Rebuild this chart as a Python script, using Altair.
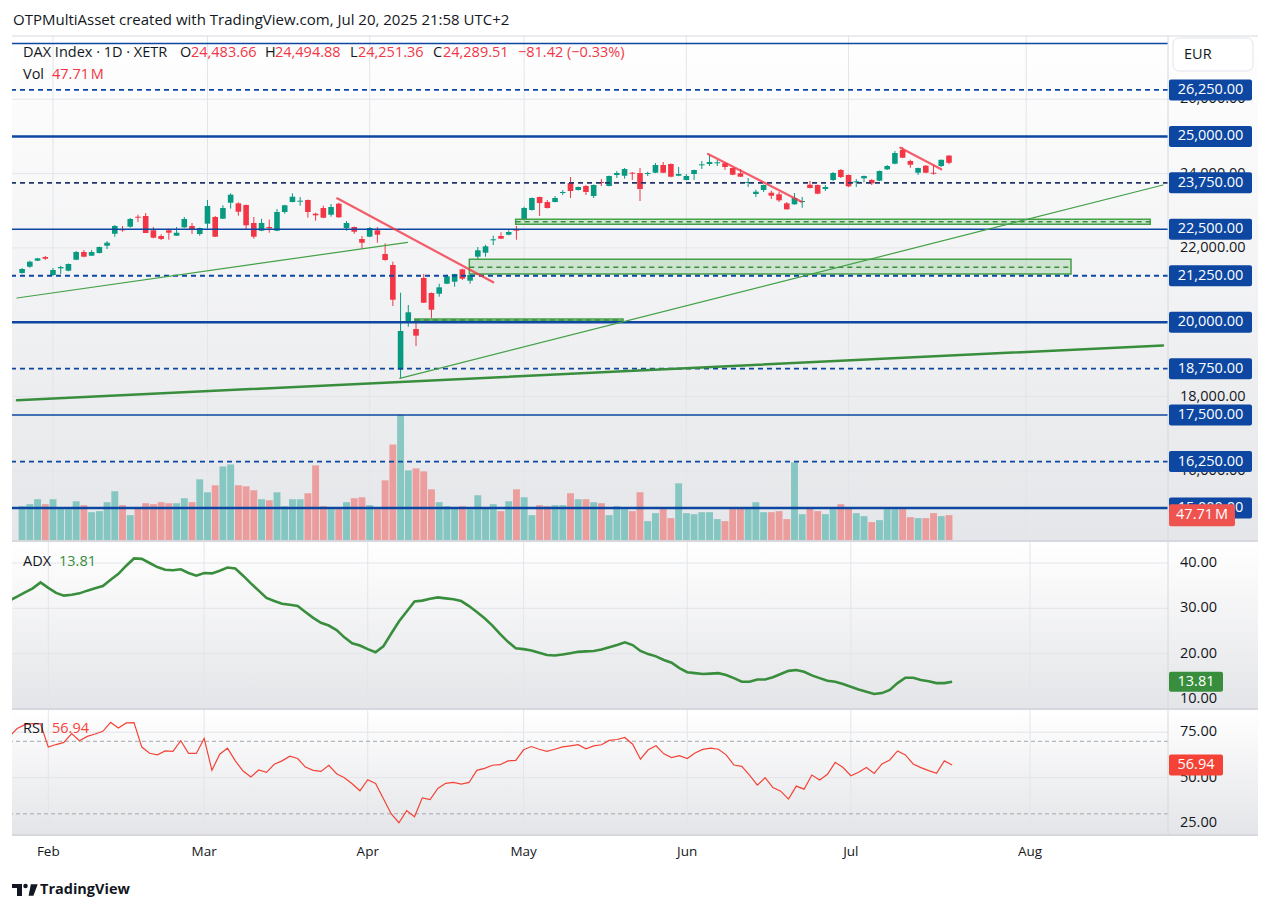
import altair as alt
import pandas as pd

# ---------------- DAX daily bars, trading-day index 0 = 28 Jan 2025 ----------------
opens = [21324, 21493, 21655, 21755, 21270, 21450, 21386, 21682, 21889, 21790,
         21862, 22058, 22381, 22508, 22570, 22839, 22858, 22473, 22319, 22473,
         22328, 22553, 22589, 22373, 22651, 22831, 22785, 23216, 23199, 23154,
         22669, 22462, 22562, 22462, 22965, 23234, 23243, 23288, 22920, 23073,
         22893, 23189, 22535, 22562, 22239, 22301, 22473, 21835, 21539, 18722,
         19997, 19817, 21189, 20786, 20767, 21036, 21090, 21423, 21117, 21763,
         21870, 22204, 22320, 22355, 22489, 22750, 23019, 23369, 23234, 23234,
         23477, 23746, 23557, 23665, 23396, 23773, 23665, 23961, 23942, 24023,
         24015, 23988, 24023, 24230, 24257, 23942, 23826, 23988, 24222, 24257,
         24276, 24276, 24149, 24007, 23746, 23450, 23557, 23485, 23442, 23199,
         23172, 23234, 23700, 23692, 23584, 23826, 24096, 23961, 23764, 23872,
         23826, 23808, 24114, 24265, 24634, 24338, 24023, 24211, 24023, 24203,
         24483.66]
highs = [21459, 21655, 21730, 21781, 21459, 21520, 21580, 21916, 21943, 21943,
         22035, 22185, 22616, 22589, 22804, 22893, 22938, 22562, 22365, 22516,
         22562, 22831, 22669, 22545, 23288, 22858, 23146, 23469, 23226, 23165,
         22831, 22785, 22762, 23046, 23160, 23469, 23369, 23300, 22947, 23135,
         23181, 23216, 22723, 22575, 22319, 22562, 22562, 22123, 21628, 20794,
         20463, 20013, 21297, 20800, 21036, 21278, 21305, 21440, 21280, 22024,
         22085, 22328, 22419, 22473, 22589, 23108, 23355, 23380, 23288, 23396,
         23557, 23907, 23650, 23692, 23705, 23853, 23945, 24069, 24149, 24042,
         24149, 24050, 24284, 24311, 24270, 24176, 23988, 24105, 24338, 24499,
         24365, 24303, 24160, 24122, 23880, 23566, 23705, 23539, 23504, 23234,
         23477, 23369, 23800, 23705, 23692, 24042, 24122, 23975, 23853, 23945,
         23853, 24080, 24230, 24607, 24706, 24373, 24160, 24230, 24230, 24375,
         24494.88]
lows = [21305, 21466, 21645, 21674, 21243, 21297, 21370, 21670, 21750, 21781,
        21850, 21970, 22301, 22435, 22543, 22696, 22395, 22258, 22212, 22220,
        22320, 22540, 22373, 22328, 22516, 22290, 22775, 23056, 22866, 22508,
        22247, 22450, 22408, 22450, 22920, 23225, 23135, 22812, 22731, 22800,
        22839, 22810, 22462, 22381, 21970, 22290, 22139, 21655, 20436, 18490,
        19879, 19359, 20515, 20113, 20686, 21025, 20955, 21135, 21036, 21692,
        21763, 22077, 22240, 22338, 22220, 22740, 23005, 22858, 23060, 23225,
        23423, 23342, 23545, 23423, 23342, 23665, 23655, 23880, 23862, 23826,
        23262, 23934, 24010, 24010, 23900, 23930, 23815, 23826, 24123, 24203,
        24203, 24096, 23955, 23905, 23638, 23369, 23504, 23315, 23235, 23030,
        23160, 23081, 23600, 23445, 23530, 23800, 23880, 23638, 23638, 23764,
        23692, 23795, 24096, 24250, 24415, 24158, 23961, 24010, 23969, 24176,
        24251.36]
closes = [21432, 21628, 21719, 21709, 21405, 21485, 21566, 21889, 21763, 21889,
          22023, 22139, 22589, 22473, 22777, 22812, 22400, 22274, 22239, 22408,
          22408, 22777, 22508, 22535, 23127, 22301, 23073, 23431, 22973, 22608,
          22301, 22669, 22527, 22965, 23146, 23377, 23270, 22965, 22876, 22812,
          23100, 22823, 22669, 22435, 22139, 22535, 22355, 21674, 20605, 19763,
          20266, 19637, 20525, 20336, 20939, 21235, 21297, 21170, 21270, 21935,
          22042, 22231, 22247, 22427, 22462, 23073, 23342, 23207, 23073, 23342,
          23504, 23530, 23638, 23504, 23692, 23746, 23934, 24015, 24122, 23996,
          23584, 24015, 24230, 24023, 23915, 23988, 23934, 24096, 24249, 24311,
          24303, 24176, 23969, 23915, 23773, 23512, 23692, 23404, 23280, 23038,
          23342, 23261, 23611, 23458, 23638, 24015, 23907, 23657, 23791, 23934,
          23737, 24069, 24203, 24553, 24427, 24238, 24149, 24023, 23996, 24370.93,
          24289.51]
# volume, millions
volume_m = [64.2, 67.9, 77.1, 67.9, 77.1, 62.4, 58.7, 73.4, 66.1, 53.2,
            55.1, 71.6, 91.8, 66.1, 47.7, 60.6, 69.7, 67.9, 71.6, 69.7,
            69.7, 78.9, 71.6, 113.8, 89.9, 102.8, 137.6, 141.3, 102.8, 100.9,
            93.6, 77.1, 75.2, 89.9, 64.2, 77.1, 77.1, 88.1, 139.5, 64.2,
            58.7, 58.7, 71.6, 78.9, 80.7, 66.1, 58.7, 111.9, 178.0, 233.0,
            130.3, 134.0, 128.5, 95.4, 71.6, 64.2, 60.6, 64.2, 58.7, 84.4,
            60.6, 67.9, 55.1, 73.4, 95.4, 80.7, 47.7, 66.1, 64.2, 66.1,
            66.1, 88.1, 77.1, 77.1, 71.6, 69.7, 47.7, 64.2, 58.7, 55.1,
            89.9, 36.7, 51.4, 58.7, 42.2, 106.4, 51.4, 49.5, 53.2, 53.2,
            40.4, 36.7, 58.7, 60.6, 62.4, 71.6, 53.2, 53.2, 55.1, 40.4,
            145.0, 49.5, 62.4, 55.1, 49.5, 58.7, 67.9, 60.6, 51.4, 45.9,
            34.9, 38.5, 58.7, 58.7, 58.7, 44.0, 42.2, 42.2, 51.4, 45.9,
            47.71]
# ADX(14) and RSI(14), index -1 .. 120
adx_vals = [31.7,
            32.6, 33.5, 34.4, 35.7, 34.5, 33.4, 32.8, 33.0, 33.3, 33.9,
            34.4, 34.9, 36.3, 37.6, 39.4, 41.0, 40.9, 40.0, 39.1, 38.5,
            38.4, 38.6, 37.8, 37.2, 37.8, 37.7, 38.3, 39.0, 38.8, 37.2,
            35.5, 33.9, 32.3, 31.6, 31.0, 30.8, 30.5, 29.2, 27.9, 26.8,
            26.2, 25.2, 23.6, 22.3, 21.8, 21.0, 20.3, 21.6, 24.4, 27.1,
            29.3, 31.5, 31.7, 32.1, 32.4, 32.2, 32.0, 31.6, 30.5, 29.2,
            27.8, 26.2, 24.3, 22.6, 21.2, 21.0, 20.7, 20.2, 19.7, 19.6,
            19.8, 20.1, 20.4, 20.5, 20.6, 20.9, 21.4, 21.9, 22.5, 21.9,
            20.6, 19.9, 19.4, 18.6, 18.0, 16.8, 15.9, 15.7, 15.5, 15.6,
            15.7, 15.3, 14.6, 13.8, 13.8, 14.3, 14.3, 14.8, 15.5, 16.2,
            16.4, 16.0, 15.2, 14.6, 14.0, 13.8, 13.3, 12.7, 12.1, 11.6,
            11.1, 11.3, 12.0, 13.5, 14.7, 14.7, 14.2, 13.9, 13.5, 13.5,
            13.81]
rsi_vals = [72.5,
            77.0, 79.2, 79.8, 79.6, 66.8, 68.2, 69.4, 74.2, 70.3, 72.7,
            74.0, 75.5, 80.4, 77.3, 80.1, 80.3, 66.8, 63.4, 62.5, 64.7,
            64.4, 70.3, 63.3, 63.3, 71.6, 54.0, 62.9, 66.2, 59.2, 53.6,
            50.3, 54.2, 52.9, 57.3, 59.2, 61.8, 60.5, 55.8, 54.0, 53.4,
            56.8, 52.1, 49.9, 46.6, 42.7, 48.8, 46.8, 38.4, 30.1, 25.1,
            31.8, 28.4, 38.8, 37.9, 44.0, 46.8, 47.3, 46.4, 47.3, 54.0,
            55.1, 56.8, 57.1, 59.2, 59.5, 65.3, 67.1, 65.6, 64.4, 65.6,
            66.9, 67.5, 68.1, 65.8, 67.5, 68.1, 70.5, 71.0, 72.1, 68.4,
            60.1, 65.3, 67.5, 63.1, 61.0, 62.1, 60.5, 63.5, 65.5, 66.2,
            65.6, 62.5, 56.9, 56.2, 51.4, 45.8, 49.9, 44.5, 42.5, 38.1,
            45.3, 43.6, 51.4, 48.6, 51.8, 58.4, 55.5, 51.0, 52.9, 55.6,
            52.3, 57.5, 59.7, 64.7, 62.5, 57.5, 55.5, 53.8, 52.3, 59.2,
            56.94]

month_idx = [4, 24, 45, 65, 86, 107, 130]
month_names = ["Feb", "Mar", "Apr", "May", "Jun", "Jul", "Aug"]

# horizontal price levels
levels_thick = [25000, 20000, 15000]
levels_thin = [27500, 22500, 17500]
levels_dashed = [26250, 21250, 18750, 16250]
levels_dark = [23750]
level_labels = [26250, 25000, 23750, 22500, 21250, 20000, 18750, 17500, 16250, 15000]
price_ticks = [16000, 18000, 20000, 22000, 24000, 26000]
adx_ticks = [10, 20, 30, 40]
rsi_ticks = [25, 50, 75]
rsi_bands = [70, 30]

# drawings: (start index, start price, end index, end price)
red_lines = [(40.8, 23334, 61.0, 21074), (88.8, 24526, 100.9, 23243), (113.7, 24696, 119.0, 24114)]
green_thin = [(-0.66, 20651, 49.9, 22150), (48.9, 18490, 147.71, 23692)]
green_thick = [(-0.66, 17898, 147.71, 19376)]
# zones: (start index, end index, low, high, mid)
zones = [(63.9, 146.05, 22634, 22769, 22702),
         (57.9, 135.8, 21297, 21693, 21477),
         (50.85, 77.8, 20032, 20086, 20060)]

# ---------------- styling ----------------
FONT = "Open Sans"
INK = "#131722"
UP, DOWN = "#089981", "#f23645"
VOL_UP, VOL_DOWN = "#26a69a", "#ef5350"
BLUE = "#0d47a1"
GRID = "#e3e5ea"
SEP = "#d6d8de"
ADX_C = "#388e3c"
RSI_C = "#f44336"
HEAD = 15       # snapshot caption size
LEGEND = 14.5   # pane legend size
SCALE = 14.5    # price-scale text size

W = 1156          # plot width
GUT = 90          # right price-scale column
H1, H2, H3 = 505, 168, 126

X_DOM = [-0.66, 147.71]
P_DOM = [14112, 27702]
ADX_DOM = [7.79, 44.85]
RSI_DOM = [18.33, 87.8]
VOL_DOM = [0, max(volume_m) * 4]

one = pd.DataFrame({"k": [0]})


def xs(field):
    return alt.X(field, type="quantitative",
                 scale=alt.Scale(domain=X_DOM, nice=False, zero=False), axis=None)


def ys(field, dom):
    return alt.Y(field, type="quantitative",
                 scale=alt.Scale(domain=dom, nice=False, zero=False), axis=None)


def text(t, x, y, color=INK, size=LEGEND, align="left", weight="normal"):
    return alt.Chart(one).mark_text(
        text=t, align=align, baseline="middle", font=FONT, fontSize=size,
        color=color, fontWeight=weight
    ).encode(x=alt.value(x), y=alt.value(y))


def panel_bg(h, bottom):
    grad = alt.LinearGradient(
        gradient="linear",
        stops=[alt.GradientStop(color="#ffffff", offset=0),
               alt.GradientStop(color=bottom, offset=1)],
        x1=0, x2=0, y1=0, y2=1)
    return alt.Chart(one).mark_rect(fill=grad).encode(
        x=alt.value(0), x2=alt.value(W + GUT), y=alt.value(0), y2=alt.value(h))


def vgrid():
    return alt.Chart(pd.DataFrame({"i": month_idx})).mark_rule(
        color=GRID, strokeWidth=1).encode(x=xs("i"))


def hgrid(values, dom):
    return alt.Chart(pd.DataFrame({"v": values})).mark_rule(
        color=GRID, strokeWidth=1).encode(y=ys("v", dom))


def tick_labels(values, dom, fmt):
    df = pd.DataFrame({"v": values, "txt": [format(v, fmt) for v in values]})
    return alt.Chart(df).mark_text(
        font=FONT, fontSize=SCALE, color=INK, align="left", baseline="middle"
    ).encode(x=alt.value(W + 12), y=ys("v", dom), text="txt:N")


def value_box(val, half_px, dom, h, fill, width):
    half = half_px * (dom[1] - dom[0]) / h
    df = pd.DataFrame({"v": [val], "hi": [val + half], "lo": [val - half],
                       "txt": [f"{val:,.2f}"]})
    box = alt.Chart(df).mark_rect(fill=fill, cornerRadius=2).encode(
        x=alt.value(W + 1), x2=alt.value(W + 1 + width), y=ys("hi", dom), y2="lo")
    txt = alt.Chart(df).mark_text(
        color="white", font=FONT, fontSize=SCALE, align="center", baseline="middle"
    ).encode(x=alt.value(W + 1 + width / 2), y=ys("v", dom), text="txt:N")
    return [box, txt]


def scale_sep(h):
    return alt.Chart(one).mark_rule(color=SEP, strokeWidth=1).encode(
        x=alt.value(W), y=alt.value(0), y2=alt.value(h))


def pane_sep(y, width=2):
    return alt.Chart(one).mark_rule(color=SEP, strokeWidth=width).encode(
        x=alt.value(0), x2=alt.value(W + GUT), y=alt.value(y))


# ---------------- data tables ----------------
bars = pd.DataFrame({"i": list(range(len(opens))), "o": opens, "h": highs,
                     "l": lows, "c": closes, "v": volume_m})
bars["col"] = [UP if c >= o else DOWN for o, c in zip(opens, closes)]
bars["vcol"] = [VOL_UP if c >= o else VOL_DOWN for o, c in zip(opens, closes)]

ind = pd.DataFrame({"i": list(range(-1, len(adx_vals) - 1)), "adx": adx_vals, "rsi": rsi_vals})

p_per_px = (P_DOM[1] - P_DOM[0]) / H1
lab = pd.DataFrame({"p": level_labels})
lab["hi"] = lab["p"] + 10.5 * p_per_px
lab["lo"] = lab["p"] - 10.5 * p_per_px
lab["txt"] = [f"{p:,.2f}" for p in level_labels]


def seg_df(rows):
    return pd.DataFrame(rows, columns=["i0", "p0", "i1", "p1"])


zone_df = pd.DataFrame(zones, columns=["i0", "i1", "lo", "hi", "mid"])

# ---------------- price pane ----------------
frame = alt.Chart(one).mark_rect(fill="white").encode(
    x=alt.value(-12), x2=alt.value(1259), y=alt.value(-36), y2=alt.value(877))

bg_layer = alt.layer(
    panel_bg(H1, "#e5e6e9"),
    vgrid(),
    hgrid(price_ticks, P_DOM),
)

vol_layer = alt.Chart(bars).mark_bar(size=6.9, opacity=0.5).encode(
    x=xs("i"), y=ys("v", VOL_DOM), color=alt.Color("vcol:N", scale=None))


def yp(field):
    return ys(field, P_DOM)


def level_rules(vals, width, dash=None, color=BLUE):
    kw = dict(color=color, strokeWidth=width)
    if dash:
        kw["strokeDash"] = dash
    return alt.Chart(pd.DataFrame({"p": vals})).mark_rule(**kw).encode(y=yp("p"))


def seg_rules(rows, color, width, opacity=1.0):
    return alt.Chart(seg_df(rows)).mark_rule(
        color=color, strokeWidth=width, opacity=opacity, strokeCap="round"
    ).encode(x=xs("i0"), x2="i1", y=yp("p0"), y2="p1")


zone_rect = alt.Chart(zone_df).mark_rect(
    fill="#4caf50", fillOpacity=0.22, stroke="#43a047", strokeWidth=1.5
).encode(x=xs("i0"), x2="i1", y=yp("lo"), y2="hi")
zone_mid = alt.Chart(zone_df).mark_rule(
    color="#388e3c", strokeWidth=1.5, strokeDash=[5, 4]
).encode(x=xs("i0"), x2="i1", y=yp("mid"))

wicks = alt.Chart(bars).mark_rule(strokeWidth=1).encode(
    x=xs("i"), y=yp("l"), y2="h", color=alt.Color("col:N", scale=None))
bodies = alt.Chart(bars).mark_bar(size=5.6).encode(
    x=xs("i"), y=yp("o"), y2="c", color=alt.Color("col:N", scale=None))

lab_box = alt.Chart(lab).mark_rect(fill=BLUE, cornerRadius=2).encode(
    x=alt.value(W + 1), x2=alt.value(W + 84), y=yp("hi"), y2="lo")
lab_txt = alt.Chart(lab).mark_text(
    color="white", font=FONT, fontSize=SCALE, align="center", baseline="middle"
).encode(x=alt.value(W + 42.5), y=yp("p"), text="txt:N")

eur_box = alt.Chart(one).mark_rect(
    fill="white", stroke="#e0e3eb", strokeWidth=1, cornerRadius=6
).encode(x=alt.value(W + 5), x2=alt.value(W + 85), y=alt.value(2), y2=alt.value(35))

chg = closes[-1] - closes[-2]
pct = chg / closes[-2] * 100
header = [
    text("OTPMultiAsset created with TradingView.com, Jul 20, 2025 21:58 UTC+2", 1, -16, size=HEAD),
    text("DAX Index · 1D · XETR", 11, 17),
    text("O", 168, 17), text(f"{opens[-1]:,.2f}", 179, 17, DOWN),
    text("H", 253, 17), text(f"{highs[-1]:,.2f}", 263, 17, DOWN),
    text("L", 338, 17), text(f"{lows[-1]:,.2f}", 346, 17, DOWN),
    text("C", 421, 17), text(f"{closes[-1]:,.2f}", 431, 17, DOWN),
    text(f"\u2212{abs(chg):,.2f} (\u2212{abs(pct):.2f}%)", 506, 17, DOWN),
    text("Vol", 11, 39), text(f"{volume_m[-1]:.2f}\u202fM", 40, 39, DOWN),
    text("EUR", W + 16, 18.5, size=SCALE),
]

price_layer = alt.layer(
    tick_labels(price_ticks, P_DOM, ",.2f"),
    wicks, bodies,
    zone_rect, zone_mid,
    level_rules(levels_thin, 1.5),
    level_rules(levels_thick, 2.5),
    level_rules(levels_dashed, 1.8, [5, 4]),
    level_rules(levels_dark, 1.8, [5, 4], "#22356b"),
    seg_rules(green_thick, "#388e3c", 2.5),
    seg_rules(green_thin, "#43a047", 1.2),
    seg_rules(red_lines, "#f23645", 2.2, 0.8),
    lab_box, lab_txt, eur_box,
    scale_sep(H1),
    pane_sep(0, 1),
    *header,
)

vol_half = 11 * VOL_DOM[1] / H1
vol_lab = pd.DataFrame({"v": [volume_m[-1]], "hi": [volume_m[-1] + vol_half],
                        "lo": [volume_m[-1] - vol_half],
                        "txt": [f"{volume_m[-1]:.2f}\u202fM"]})
vol_label_layer = alt.layer(
    alt.Chart(vol_lab).mark_rect(fill="#ef5350", cornerRadius=2).encode(
        x=alt.value(W + 1), x2=alt.value(W + 67), y=ys("hi", VOL_DOM), y2="lo"),
    alt.Chart(vol_lab).mark_text(color="white", font=FONT, fontSize=SCALE,
                                 align="center", baseline="middle").encode(
        x=alt.value(W + 34), y=ys("v", VOL_DOM), text="txt:N"),
)

pane1 = alt.layer(frame, bg_layer, vol_layer, price_layer, vol_label_layer).resolve_scale(
    y="independent").properties(width=W, height=H1)

# ---------------- ADX pane ----------------
adx_last = adx_vals[-1]
pane2 = alt.layer(
    panel_bg(H2, "#e4e5e8"),
    vgrid(),
    hgrid(adx_ticks, ADX_DOM),
    tick_labels(adx_ticks, ADX_DOM, ".2f"),
    alt.Chart(ind).mark_line(color=ADX_C, strokeWidth=2.6, clip=True).encode(
        x=xs("i"), y=ys("adx", ADX_DOM)),
    *value_box(adx_last, 10, ADX_DOM, H2, ADX_C, 54),
    scale_sep(H2),
    pane_sep(0),
    text("ADX", 11, 21),
    text(f"{adx_last:.2f}", 47, 21, ADX_C),
).properties(width=W, height=H2)

# ---------------- RSI pane ----------------
rsi_last = rsi_vals[-1]
months = pd.DataFrame({"i": month_idx, "m": month_names})
logo_v = "M-0.2,-1 L1,-1 L0.25,1 L-0.6,1 Z"
pane3 = alt.layer(
    panel_bg(H3, "#e4e5e8"),
    vgrid(),
    hgrid(rsi_ticks, RSI_DOM),
    tick_labels(rsi_ticks, RSI_DOM, ".2f"),
    alt.Chart(pd.DataFrame({"v": rsi_bands})).mark_rule(
        color="#a3a6af", strokeWidth=1, strokeDash=[4, 3]).encode(y=ys("v", RSI_DOM)),
    alt.Chart(ind).mark_line(color=RSI_C, strokeWidth=1.2, clip=True).encode(
        x=xs("i"), y=ys("rsi", RSI_DOM)),
    *value_box(rsi_last, 10.5, RSI_DOM, H3, RSI_C, 54),
    scale_sep(H3),
    pane_sep(0),
    pane_sep(H3),
    text("RSI", 11, 20),
    text(f"{rsi_last:.2f}", 40, 20, RSI_C),
    alt.Chart(months).mark_text(font=FONT, fontSize=13.5, color=INK,
                                align="center", baseline="middle").encode(
        x=xs("i"), y=alt.value(143), text="m:N"),
    # TradingView logo
    alt.Chart(one).mark_rect(fill=INK).encode(
        x=alt.value(0), x2=alt.value(10), y=alt.value(175), y2=alt.value(179)),
    alt.Chart(one).mark_rect(fill=INK).encode(
        x=alt.value(5), x2=alt.value(10), y=alt.value(175), y2=alt.value(187)),
    alt.Chart(one).mark_point(filled=True, color=INK, size=20, opacity=1).encode(
        x=alt.value(13.5), y=alt.value(177)),
    alt.Chart(one).mark_point(shape=logo_v, filled=True, color=INK, size=130, opacity=1).encode(
        x=alt.value(20), y=alt.value(181)),
    text("TradingView", 28, 181, INK, 14.5, weight="bold"),
).properties(width=W, height=H3)

chart = alt.vconcat(pane1, pane2, pane3, spacing=0, bounds="flush").properties(
    padding=0, background="white"
).configure_view(stroke=None)

chart.save("out.html", embed_options={"renderer": "svg", "actions": False})
